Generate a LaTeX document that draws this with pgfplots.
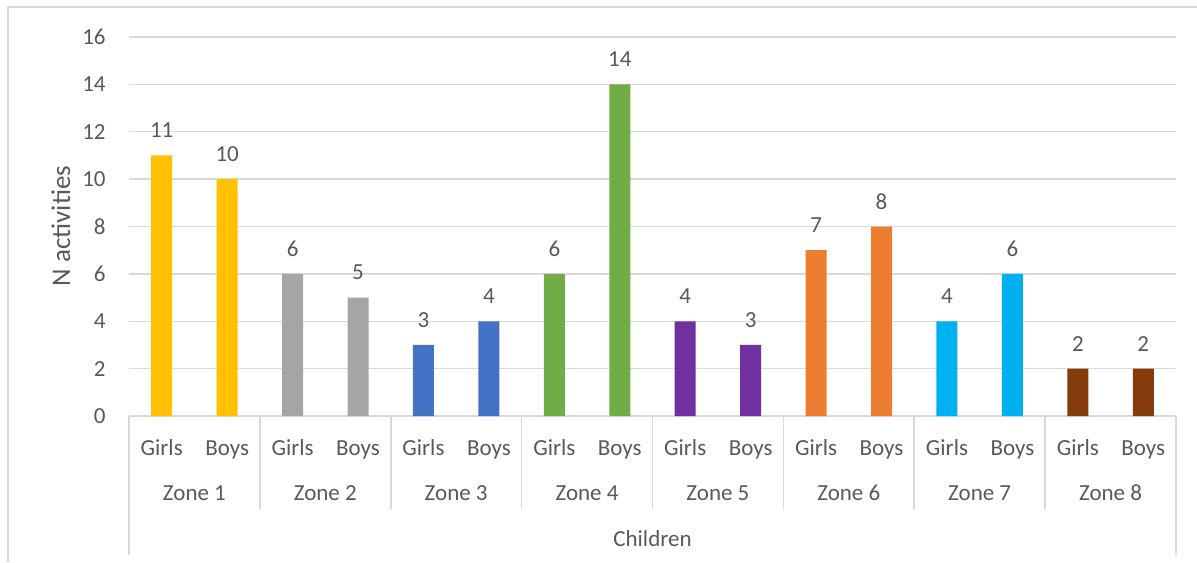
\documentclass[border=0pt]{standalone}
\usepackage{fontspec}
\setmainfont{Carlito}
\usepackage{pgfplots}
\pgfplotsset{compat=1.18}

\definecolor{txt}{HTML}{595959}
\definecolor{gridc}{HTML}{D9D9D9}
\definecolor{zA}{HTML}{FFC000}
\definecolor{zB}{HTML}{A5A5A5}
\definecolor{zC}{HTML}{4472C4}
\definecolor{zD}{HTML}{70AD47}
\definecolor{zE}{HTML}{7030A0}
\definecolor{zF}{HTML}{ED7D31}
\definecolor{zG}{HTML}{00B0F0}
\definecolor{zH}{HTML}{843C0C}

\newcommand{\lbl}{\fontsize{11.5}{13}\selectfont}

\begin{document}
\begin{tikzpicture}
\useasboundingbox (0,0) rectangle (598.5pt,-281pt);
% chart frame
\draw[gridc, line width=0.8pt] (4pt,-281pt) -- (4pt,-3.5pt) -- (598.5pt,-3.5pt);

\begin{axis}[
  at={(64.5pt,-208pt)}, anchor=south west,
  scale only axis, width=523.5pt, height=189.5pt,
  xmin=-0.5, xmax=15.5, ymin=0, ymax=16,
  ytick={0,2,...,16},
  xtick={0,...,15},
  xticklabels={Girls,Boys,Girls,Boys,Girls,Boys,Girls,Boys,Girls,Boys,Girls,Boys,Girls,Boys,Girls,Boys},
  major tick length=0pt,
  axis x line*=bottom, axis y line*=left,
  x axis line style={-, draw=gridc, line width=0.8pt},
  y axis line style={draw=none},
  ymajorgrids, grid style={gridc, line width=0.7pt},
  /pgf/number format/assume math mode=true,
  ticklabel style={font=\lbl, text=txt},
  yticklabel style={anchor=east, inner sep=0pt, xshift=-11.5pt},
  xticklabel style={anchor=base, inner sep=0pt, yshift=-19.5pt},
  nodes near coords,
  every node near coord/.append style={font=\lbl, text=txt, anchor=center, inner sep=0pt, yshift=12.5pt},
  clip=false,
]
\addplot[ybar, bar width=10.5pt, fill=zA, draw=none] coordinates {(0,11) (1,10)};
\addplot[ybar, bar width=10.5pt, fill=zB, draw=none] coordinates {(2,6) (3,5)};
\addplot[ybar, bar width=10.5pt, fill=zC, draw=none] coordinates {(4,3) (5,4)};
\addplot[ybar, bar width=10.5pt, fill=zD, draw=none] coordinates {(6,6) (7,14)};
\addplot[ybar, bar width=10.5pt, fill=zE, draw=none] coordinates {(8,4) (9,3)};
\addplot[ybar, bar width=10.5pt, fill=zF, draw=none] coordinates {(10,7) (11,8)};
\addplot[ybar, bar width=10.5pt, fill=zG, draw=none] coordinates {(12,4) (13,6)};
\addplot[ybar, bar width=10.5pt, fill=zH, draw=none] coordinates {(14,2) (15,2)};

% category separators
\pgfplotsinvokeforeach{1.5,3.5,5.5,7.5,9.5,11.5,13.5}{
  \draw[gridc, line width=0.8pt] (axis cs:#1,0) -- ([yshift=-46.5pt]axis cs:#1,0);
}
\draw[gridc, line width=0.8pt] (axis cs:-0.5,0) -- ([yshift=-69.5pt]axis cs:-0.5,0);
\draw[gridc, line width=0.8pt] (axis cs:15.5,0) -- ([yshift=-69.5pt]axis cs:15.5,0);

% zone names
\pgfplotsinvokeforeach{1,...,8}{
  \node[font=\lbl, text=txt, anchor=base, inner sep=0pt, yshift=-42.35pt] at (axis cs:{2*#1-1.5},0) {Zone #1};
}
\node[font=\lbl, text=txt, anchor=base, inner sep=0pt, yshift=-65.35pt] at (axis cs:7.5,0) {Children};
\end{axis}

\node[font=\fontsize{13.5}{15}\selectfont, text=txt, rotate=90, anchor=base, inner sep=0pt] at (35pt,-113pt) {N activities};
\end{tikzpicture}
\end{document}
